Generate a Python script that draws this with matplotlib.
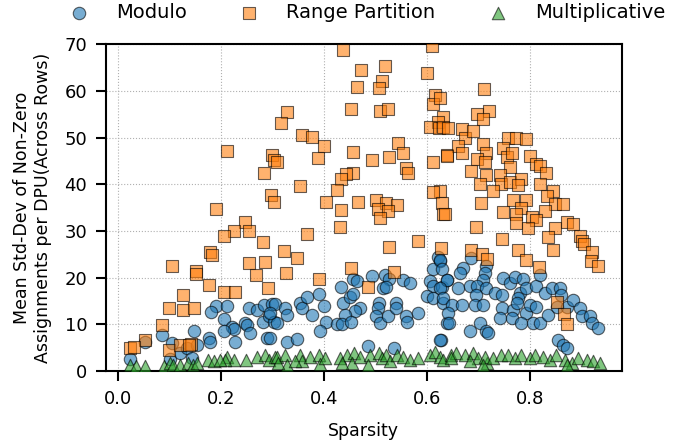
import matplotlib
matplotlib.use("Agg")
import matplotlib.pyplot as plt

# ---------------- data ----------------
modulo_x = [0.023, 0.086, 0.052, 0.105, 0.101, 0.121, 0.134, 0.148, 0.145, 0.154,
            0.177, 0.180, 0.190, 0.212, 0.182, 0.206, 0.222, 0.225, 0.206, 0.228,
            0.254, 0.270, 0.248, 0.251, 0.256, 0.282, 0.284, 0.293, 0.300, 0.290,
            0.303, 0.306, 0.325, 0.328, 0.309, 0.296, 0.296, 0.328, 0.349, 0.354,
            0.357, 0.368, 0.390, 0.401, 0.377, 0.404, 0.392, 0.434, 0.438, 0.451,
            0.456, 0.457, 0.465, 0.470, 0.460, 0.442, 0.425, 0.435, 0.454, 0.493,
            0.519, 0.526, 0.516, 0.522, 0.508, 0.506, 0.502, 0.509, 0.525, 0.541,
            0.540, 0.555, 0.568, 0.560, 0.561, 0.583, 0.487, 0.537, 0.627, 0.623,
            0.625, 0.613, 0.607, 0.613, 0.629, 0.600, 0.639, 0.613, 0.632, 0.639,
            0.626, 0.629, 0.671, 0.665, 0.687, 0.716, 0.713, 0.710, 0.639, 0.626,
            0.661, 0.632, 0.649, 0.668, 0.642, 0.644, 0.626, 0.684, 0.697, 0.716,
            0.696, 0.694, 0.709, 0.733, 0.746, 0.749, 0.762, 0.772, 0.788, 0.781,
            0.794, 0.813, 0.746, 0.768, 0.778, 0.775, 0.794, 0.800, 0.813, 0.742,
            0.765, 0.784, 0.807, 0.820, 0.830, 0.843, 0.859, 0.862, 0.836, 0.853,
            0.872, 0.885, 0.898, 0.901, 0.918, 0.921, 0.933, 0.684, 0.703, 0.716,
            0.719, 0.856, 0.865, 0.872, 0.820]
modulo_y = [2.6, 7.8, 6.3, 6.0, 2.5, 3.9, 5.0, 8.6, 2.9, 5.6,
            7.0, 6.3, 14.0, 14.0, 12.6, 11.2, 9.4, 9.0, 8.6, 6.3,
            13.6, 13.1, 10.2, 9.8, 8.2, 10.6, 14.2, 11.9, 14.4, 7.1,
            10.6, 14.3, 13.5, 12.0, 10.4, 12.4, 7.1, 6.3, 6.8, 14.5,
            13.5, 15.9, 16.5, 14.0, 12.0, 10.6, 8.5, 17.9, 14.5, 15.9,
            16.6, 19.8, 19.2, 13.5, 12.8, 12.0, 10.0, 10.0, 10.5, 20.4,
            20.6, 19.8, 17.8, 18.0, 14.5, 13.5, 11.7, 10.4, 11.7, 14.5,
            13.5, 19.5, 18.8, 11.7, 10.5, 12.5, 5.4, 4.9, 6.6, 24.5,
            23.5, 21.8, 19.2, 18.2, 17.9, 16.1, 19.6, 15.6, 14.5, 10.4,
            23.8, 21.8, 22.1, 21.1, 24.3, 22.5, 21.1, 19.6, 19.6, 17.8,
            17.8, 15.7, 14.2, 14.2, 12.4, 10.2, 6.6, 18.2, 18.2, 17.8,
            16.2, 14.2, 14.2, 16.7, 16.4, 19.9, 18.8, 20.1, 19.7, 16.7,
            17.8, 18.2, 13.5, 13.1, 15.7, 14.6, 12.5, 14.2, 13.8, 11.4,
            11.4, 10.4, 10.2, 10.4, 16.7, 17.8, 17.8, 16.4, 12.1, 13.8,
            13.8, 15.3, 13.5, 11.7, 11.7, 10.4, 9.3, 8.5, 10.2, 8.5,
            8.2, 6.6, 5.6, 5.0, 20.6]

range_x = [0.212, 0.190, 0.248, 0.225, 0.206, 0.254, 0.180, 0.183, 0.283, 0.254,
           0.286, 0.269, 0.105, 0.151, 0.152, 0.178, 0.207, 0.228, 0.126, 0.099,
           0.127, 0.148, 0.291, 0.086, 0.052, 0.023, 0.032, 0.099, 0.120, 0.143,
           0.138, 0.300, 0.303, 0.285, 0.297, 0.303,
           0.438, 0.610, 0.472, 0.519, 0.600, 0.514, 0.465, 0.508, 0.616, 0.613,
           0.328, 0.318, 0.453, 0.509, 0.524, 0.632, 0.622, 0.606, 0.624, 0.357,
           0.377, 0.401, 0.388, 0.309, 0.457, 0.493, 0.527, 0.544, 0.555, 0.613,
           0.639, 0.559, 0.564, 0.457, 0.443, 0.434, 0.425, 0.354, 0.404, 0.434,
           0.467, 0.502, 0.522, 0.542, 0.506, 0.524, 0.509, 0.626, 0.612, 0.629,
           0.632, 0.432, 0.367, 0.322, 0.349, 0.327, 0.391, 0.527, 0.583, 0.628,
           0.454, 0.537, 0.487,
           0.712, 0.697, 0.721, 0.710, 0.626, 0.631, 0.642, 0.668, 0.674, 0.690,
           0.661, 0.668, 0.640, 0.710, 0.716, 0.697, 0.713, 0.686, 0.716, 0.758,
           0.774, 0.794, 0.749, 0.757, 0.765, 0.762, 0.800, 0.813, 0.820, 0.832,
           0.742, 0.745, 0.762, 0.784, 0.778, 0.703, 0.729, 0.820, 0.846, 0.833,
           0.768, 0.793, 0.849, 0.865, 0.784, 0.830, 0.706, 0.749, 0.774, 0.804,
           0.813, 0.635, 0.774, 0.797, 0.849, 0.872, 0.885, 0.696, 0.898, 0.901,
           0.905, 0.835, 0.746, 0.686, 0.845, 0.778, 0.922, 0.708, 0.718, 0.794,
           0.919, 0.933, 0.819, 0.853, 0.866, 0.872]
range_y = [47.2, 34.7, 32.0, 29.9, 29.0, 29.9, 25.5, 24.9, 27.6, 23.1,
           23.3, 20.6, 22.5, 21.5, 20.7, 18.5, 16.9, 17.0, 16.3, 13.6,
           13.1, 13.5, 17.7, 9.9, 6.7, 4.9, 5.1, 4.6, 5.6, 5.9,
           5.6, 46.3, 45.2, 42.4, 37.8, 36.3,
           68.8, 69.5, 64.5, 65.2, 63.8, 62.2, 60.8, 60.5, 59.2, 57.2,
           55.4, 53.0, 56.1, 55.6, 56.2, 54.4, 53.3, 52.2, 52.1, 50.6,
           50.1, 48.2, 45.7, 44.8, 46.8, 45.1, 45.8, 48.8, 46.7, 44.7,
           46.2, 43.5, 42.4, 42.4, 42.1, 41.1, 38.8, 39.7, 36.1, 34.4,
           36.3, 36.6, 35.9, 35.6, 34.6, 34.2, 32.8, 38.5, 38.3, 35.9,
           33.6, 30.8, 29.4, 25.8, 24.2, 21.0, 19.7, 26.6, 27.9, 26.4,
           22.1, 21.3, 18.0,
           60.4, 55.1, 55.7, 54.0, 58.5, 52.2, 52.0, 51.8, 49.9, 51.3,
           48.2, 46.6, 46.1, 48.6, 46.7, 45.4, 44.7, 42.9, 42.0, 49.9,
           49.9, 49.6, 47.8, 45.9, 46.6, 43.6, 46.1, 44.3, 44.0, 42.4,
           41.9, 40.1, 40.5, 41.2, 39.8, 40.1, 38.5, 40.1, 38.5, 37.4,
           36.7, 36.7, 35.7, 35.7, 35.0, 34.2, 36.0, 34.1, 33.6, 32.9,
           32.4, 33.6, 31.6, 30.7, 30.7, 31.9, 31.4, 30.9, 29.0, 27.9,
           27.2, 28.6, 28.2, 26.0, 26.0, 26.0, 25.6, 25.1, 24.1, 23.7,
           23.5, 22.4, 22.3, 14.8, 12.2, 10.1]

mult_x = [0.023, 0.035, 0.053, 0.089, 0.102, 0.108, 0.121, 0.137, 0.147, 0.153,
          0.176, 0.186, 0.212, 0.225, 0.208, 0.250, 0.270, 0.286, 0.293, 0.306,
          0.199, 0.309, 0.325, 0.328, 0.354, 0.357, 0.373, 0.390, 0.393, 0.402,
          0.432, 0.445, 0.458, 0.455, 0.471, 0.490, 0.487, 0.507, 0.513, 0.522,
          0.529, 0.542, 0.555, 0.568, 0.584, 0.607, 0.617, 0.626, 0.632, 0.648,
          0.435, 0.344, 0.312, 0.658, 0.674, 0.690, 0.700, 0.717, 0.713, 0.729,
          0.745, 0.758, 0.771, 0.784, 0.800, 0.810, 0.826, 0.839, 0.852, 0.869,
          0.882, 0.894, 0.911, 0.924, 0.937, 0.872, 0.684, 0.710, 0.648]
mult_y = [1.35, 1.1, 1.0, 1.1, 1.7, 1.35, 1.35, 1.7, 1.35, 1.8,
          2.4, 2.1, 3.1, 2.3, 2.3, 2.4, 3.1, 3.5, 2.4, 3.1,
          2.4, 3.1, 3.5, 1.35, 3.5, 2.1, 3.1, 3.5, 1.6, 2.8,
          2.8, 3.5, 3.8, 1.7, 3.1, 3.5, 1.35, 3.8, 2.8, 3.5,
          2.1, 3.5, 3.1, 2.4, 2.8, 3.5, 4.2, 3.1, 2.4, 3.5,
          1.7, 2.1, 1.7, 3.8, 3.5, 3.8, 2.8, 1.7, 3.1, 2.8,
          3.5, 3.5, 2.8, 3.5, 2.8, 3.5, 3.1, 2.4, 3.5, 2.4,
          1.7, 2.8, 2.4, 2.1, 1.7, 1.35, 2.1, 1.35, 2.8]

labels = ["Modulo", "Range Partition", "Multiplicative"]
x_ticks = [0.0, 0.2, 0.4, 0.6, 0.8]
y_ticks = [0, 10, 20, 30, 40, 50, 60, 70]

# ---------------- plot ----------------
fig = plt.figure(figsize=(6.97, 4.45), dpi=100)
ax = fig.add_axes([0.152, 0.166, 0.740, 0.735])

common = dict(s=80, alpha=0.6, edgecolors="black", linewidths=0.8, zorder=3)
ax.scatter(modulo_x, modulo_y, marker="o", color="#1f77b4", label=labels[0], **common)
ax.scatter(range_x, range_y, marker="s", color="#ff7f0e", label=labels[1], **common)
ax.scatter(mult_x, mult_y, marker="^", color="#2ca02c", label=labels[2], **common)

ax.set_xlim(-0.023, 0.979)
ax.set_ylim(0, 70)
ax.set_xticks(x_ticks)
ax.set_yticks(y_ticks)
ax.grid(True, linestyle=":", color="#b0b0b0", linewidth=0.8, zorder=0)
ax.set_axisbelow(True)

for sp in ax.spines.values():
    sp.set_linewidth(1.5)
ax.tick_params(axis="both", labelsize=13, length=7, width=1.5, pad=6.5)

ax.set_xlabel("Sparsity", fontsize=12.5, labelpad=10)
ax.set_ylabel("Mean Std-Dev of Non-Zero\nAssignments per DPU(Across Rows)",
              fontsize=12.5, labelpad=9)

fig.legend(loc="center", bbox_to_anchor=(0.520, 0.971), bbox_transform=fig.transFigure,
           ncol=3, frameon=False, fontsize=14, columnspacing=2.2, handletextpad=0.9,
           handlelength=2.0, borderpad=0.2)

fig.savefig("out.png", dpi=100)
